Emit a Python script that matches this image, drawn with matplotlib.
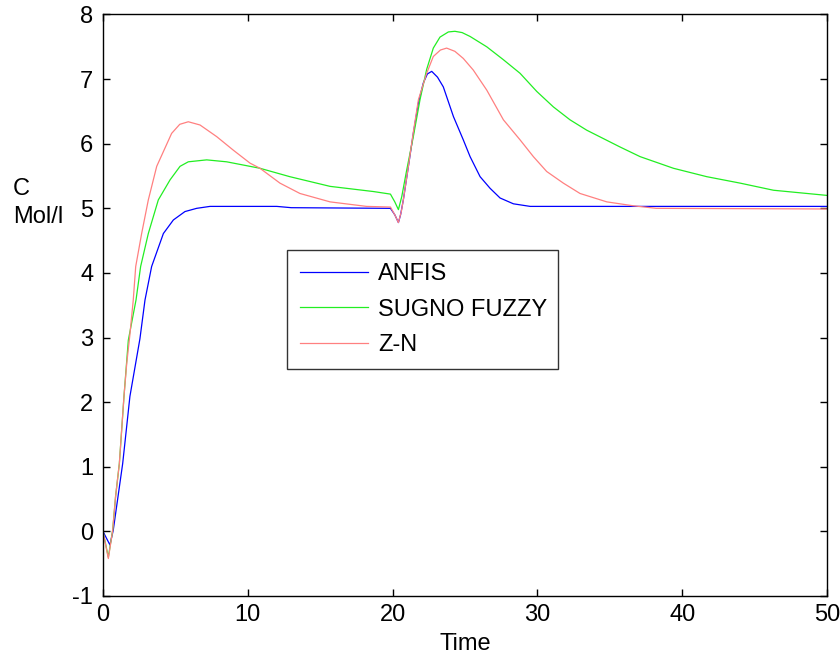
import matplotlib
matplotlib.use("Agg")
import matplotlib.pyplot as plt

plt.rcParams['font.family'] = ['Liberation Sans', 'DejaVu Sans']
plt.rcParams['axes.unicode_minus'] = False

# ANFIS
t_anfis = [0, 0.48, 0.71, 1.36, 1.86, 2.55, 2.9, 3.36, 4.17, 4.86, 5.66, 6.47, 7.39, 12.0, 13.0,
           19.85, 20.15, 20.4, 20.55, 20.74, 21.09, 21.43, 21.78, 22.12, 22.4, 22.7, 23.1, 23.5,
           24.2, 24.88, 25.35, 26.04, 26.73, 27.42, 28.34, 29.5, 50.0]
c_anfis = [0.0, -0.21, 0.02, 1.05, 2.09, 2.98, 3.58, 4.10, 4.61, 4.82, 4.95, 5.0, 5.03, 5.03, 5.01,
           5.0, 4.9, 4.78, 4.9, 5.13, 5.65, 6.16, 6.63, 6.94, 7.08, 7.12, 7.03, 6.88,
           6.42, 6.06, 5.80, 5.49, 5.31, 5.16, 5.07, 5.03, 5.03]

# SUGNO FUZZY
t_sugno = [0, 0.37, 0.67, 0.87, 1.13, 1.29, 1.45, 1.75, 2.28, 2.6, 3.13, 3.82, 4.63, 5.32, 5.89,
           7.16, 8.54, 10.15, 10.84, 12.9, 15.68, 18.67, 19.85, 20.15, 20.4, 20.63, 20.97, 21.43,
           21.89, 22.35, 22.81, 23.27, 23.85, 24.3, 24.8, 25.35, 26.5, 27.65, 28.8, 29.95, 31.1,
           32.25, 33.4, 35.7, 37.09, 39.39, 41.69, 44.0, 46.3, 50.0]
c_sugno = [0.0, -0.40, 0.02, 0.54, 1.05, 1.57, 2.09, 2.96, 3.58, 4.10, 4.61, 5.13, 5.44, 5.65, 5.72,
           5.75, 5.72, 5.65, 5.62, 5.49, 5.34, 5.26, 5.22, 5.1, 4.98, 5.18, 5.59, 6.11,
           6.68, 7.15, 7.48, 7.65, 7.73, 7.74, 7.72, 7.66, 7.50, 7.30, 7.09, 6.81, 6.57,
           6.37, 6.21, 5.95, 5.80, 5.62, 5.49, 5.39, 5.28, 5.20]

# Z-N
t_zn = [0, 0.37, 0.67, 0.87, 1.13, 1.29, 1.45, 1.64, 1.86, 2.09, 2.26, 2.67, 3.13, 3.71, 4.74,
        5.3, 5.89, 6.70, 7.85, 9.0, 10.15, 10.84, 12.22, 13.6, 15.68, 18.2, 19.85, 20.15, 20.4,
        20.6, 20.74, 21.09, 21.43, 21.78, 22.35, 22.81, 23.3, 23.73, 24.3, 24.88, 25.57, 26.5,
        27.65, 28.8, 29.72, 30.64, 31.79, 32.94, 34.79, 36.6, 38.2, 50.0]
c_zn = [0.0, -0.42, 0.02, 0.54, 1.05, 1.57, 2.09, 2.60, 3.05, 3.58, 4.10, 4.61, 5.13, 5.65, 6.16,
        6.30, 6.34, 6.29, 6.11, 5.90, 5.70, 5.62, 5.39, 5.23, 5.10, 5.03, 5.02, 4.9, 4.78,
        4.95, 5.13, 5.65, 6.18, 6.68, 7.09, 7.35, 7.45, 7.48, 7.43, 7.32, 7.14, 6.83,
        6.37, 6.06, 5.80, 5.57, 5.39, 5.23, 5.10, 5.04, 5.0, 4.99]

fig = plt.figure(figsize=(8.4, 6.59), dpi=100)
ax = fig.add_axes([0.1226, 0.0956, 0.862, 0.8824])

ax.plot(t_anfis, c_anfis, color='#0000ff', lw=0.9, label='ANFIS')
ax.plot(t_sugno, c_sugno, color='#22ee22', lw=0.9, label='SUGNO FUZZY')
ax.plot(t_zn, c_zn, color='#ff8080', lw=0.9, label='Z-N')

ax.set_xlim(0, 50)
ax.set_ylim(-1, 8)
ax.set_xticks([0, 10, 20, 30, 40, 50])
ax.set_yticks(range(-1, 9))
ax.tick_params(direction='in', length=5, width=1, top=True, right=True, labelsize=17)
ax.tick_params(axis='x', pad=6)
ax.tick_params(axis='y', pad=7)
for s in ax.spines.values():
    s.set_linewidth(1.0)

ax.set_xlabel('Time', fontsize=17, labelpad=5)
fig.text(13 / 840, 1 - 189 / 659, 'C', fontsize=17, ha='left', va='center')
fig.text(13 / 840, 1 - 217 / 659, 'Mol/l', fontsize=17, ha='left', va='center')

leg = ax.legend(loc='upper left', bbox_to_anchor=(0.254, 0.406, 0.374, 0.189), mode='expand',
                fontsize=17, frameon=True, fancybox=False, borderaxespad=0, borderpad=0.55,
                handlelength=2.9, handletextpad=0.4, labelspacing=0.58)
leg.get_frame().set_edgecolor('black')
leg.get_frame().set_linewidth(1.0)

fig.savefig('out.png', dpi=100)
